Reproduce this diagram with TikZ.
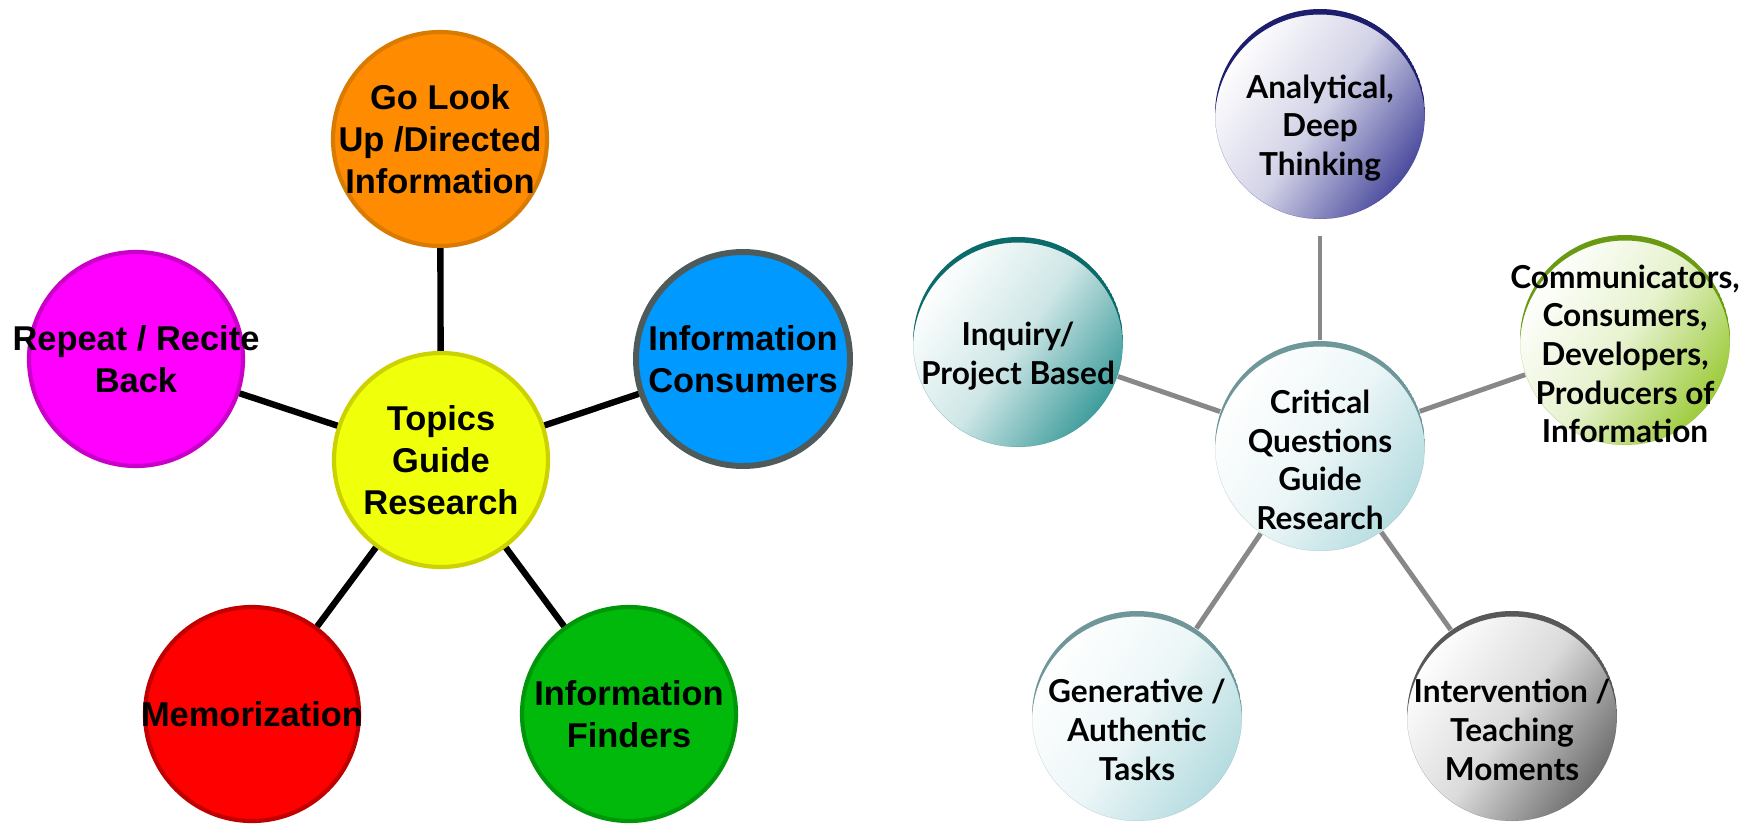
\documentclass[tikz,border=0pt]{standalone}
\usepackage{fontspec}
\setmainfont{Liberation Sans}
\newfontfamily\qfont{Lato}
\usetikzlibrary{positioning}

\definecolor{goOrange}{HTML}{FF8C00}
\definecolor{goOrangeLine}{HTML}{D97B00}
\definecolor{topicYellow}{HTML}{F0FF0A}
\definecolor{topicYellowLine}{HTML}{CCD200}
\definecolor{repeatMag}{HTML}{FF00FF}
\definecolor{repeatMagLine}{HTML}{C800C8}
\definecolor{consBlue}{HTML}{0099FF}
\definecolor{consBlueLine}{HTML}{4F5B5B}
\definecolor{memoRed}{HTML}{FF0000}
\definecolor{memoRedLine}{HTML}{C00000}
\definecolor{findGreen}{HTML}{00B90A}
\definecolor{findGreenLine}{HTML}{00960A}
\definecolor{qNavy}{HTML}{4B4B9E}
\definecolor{arcNavy}{HTML}{1E1E6E}
\definecolor{qTeal}{HTML}{3E9C9C}
\definecolor{arcTeal}{HTML}{0B6B6B}
\definecolor{qGreen}{HTML}{9CCB3A}
\definecolor{arcGreen}{HTML}{6A9A12}
\definecolor{qCyan}{HTML}{B5DCE0}
\definecolor{arcCyan}{HTML}{6F9699}
\definecolor{qGray}{HTML}{6E6E6E}
\definecolor{arcGray}{HTML}{585858}
\definecolor{spokeGray}{HTML}{888888}

\begin{document}
\begin{tikzpicture}[
  topic/.style 2 args={circle, minimum size=2.14cm, inner sep=0pt,
    line width=1.2pt, fill=#1, draw=#2},
  ttxt/.style={font=\bfseries\fontsize{9.8}{11.9}\selectfont, align=center},
  spoke/.style={line width=1.8pt, black},
  qball/.style 2 args={circle, minimum size=2.1cm, inner sep=0pt,
    top color=white, bottom color=#1, middle color=white!75!#1,
    shading angle=55,
    path picture={\fill[#2, even odd rule]
      (path picture bounding box.center) circle (1.05cm)
      ([yshift=-0.055cm]path picture bounding box.center) circle (1.05cm);}},
  qtxt/.style={font=\qfont\bfseries\fontsize{9}{11}\selectfont,
    align=center, yshift=-0.14cm},
  qspoke/.style={line width=1.4pt, spokeGray},
]
  \useasboundingbox (0,0) rectangle (17.51,8.36);

  % topics side
  \node[topic={topicYellow}{topicYellowLine},
    label={[ttxt]center:{Topics\\Guide\\Research}}] (topics) at (4.41,3.76) {};
  \node[topic={goOrange}{goOrangeLine},
    label={[ttxt]center:{Go Look\\Up /Directed\\Information}}] (golook) at (4.40,6.97) {};
  \node[topic={repeatMag}{repeatMagLine},
    label={[ttxt]center:{Repeat / Recite\\Back}}] (repeat) at (1.36,4.77) {};
  \node[topic={consBlue}{consBlueLine}, line width=1.7pt,
    label={[ttxt]center:{Information\\Consumers}}] (consumers) at (7.43,4.77) {};
  \node[topic={memoRed}{memoRedLine},
    label={[ttxt]center:{Memorization}}] (memo) at (2.52,1.22) {};
  \node[topic={findGreen}{findGreenLine},
    label={[ttxt]center:{Information\\Finders}}] (finders) at (6.29,1.22) {};

  \draw[spoke] (topics) -- (golook);
  \draw[spoke] (topics) -- (repeat);
  \draw[spoke] (topics) -- (consumers);
  \draw[spoke] (topics) -- (memo);
  \draw[spoke] (topics) -- (finders);

  % critical questions side
  \node[qball={qCyan}{arcCyan},
    label={[qtxt]center:{Critical\\Questions\\Guide\\Research}}] (crit) at (13.20,3.90) {};
  \node[qball={qNavy}{arcNavy},
    label={[qtxt]center:{Analytical,\\Deep\\Thinking}}] (anal) at (13.20,7.22) {};
  \node[qball={qTeal}{arcTeal},
    label={[qtxt]center:{Inquiry/\\Project Based}}] (inq) at (10.18,4.94) {};
  \node[qball={qGreen}{arcGreen},
    label={[qtxt]center:{Communicators,\\Consumers,\\Developers,\\Producers of\\Information}}] (comm) at (16.25,4.96) {};
  \node[qball={qCyan}{arcCyan},
    label={[qtxt]center:{Generative /\\Authentic\\Tasks}}] (gen) at (11.37,1.20) {};
  \node[qball={qGray}{arcGray},
    label={[qtxt]center:{Intervention /\\Teaching\\Moments}}] (interv) at (15.12,1.20) {};

  \draw[qspoke, shorten >=0.16cm] (crit) -- (anal);
  \draw[qspoke] (crit) -- (inq);
  \draw[qspoke] (crit) -- (comm);
  \draw[qspoke] (crit) -- (gen);
  \draw[qspoke] (crit) -- (interv);
\end{tikzpicture}
\end{document}
